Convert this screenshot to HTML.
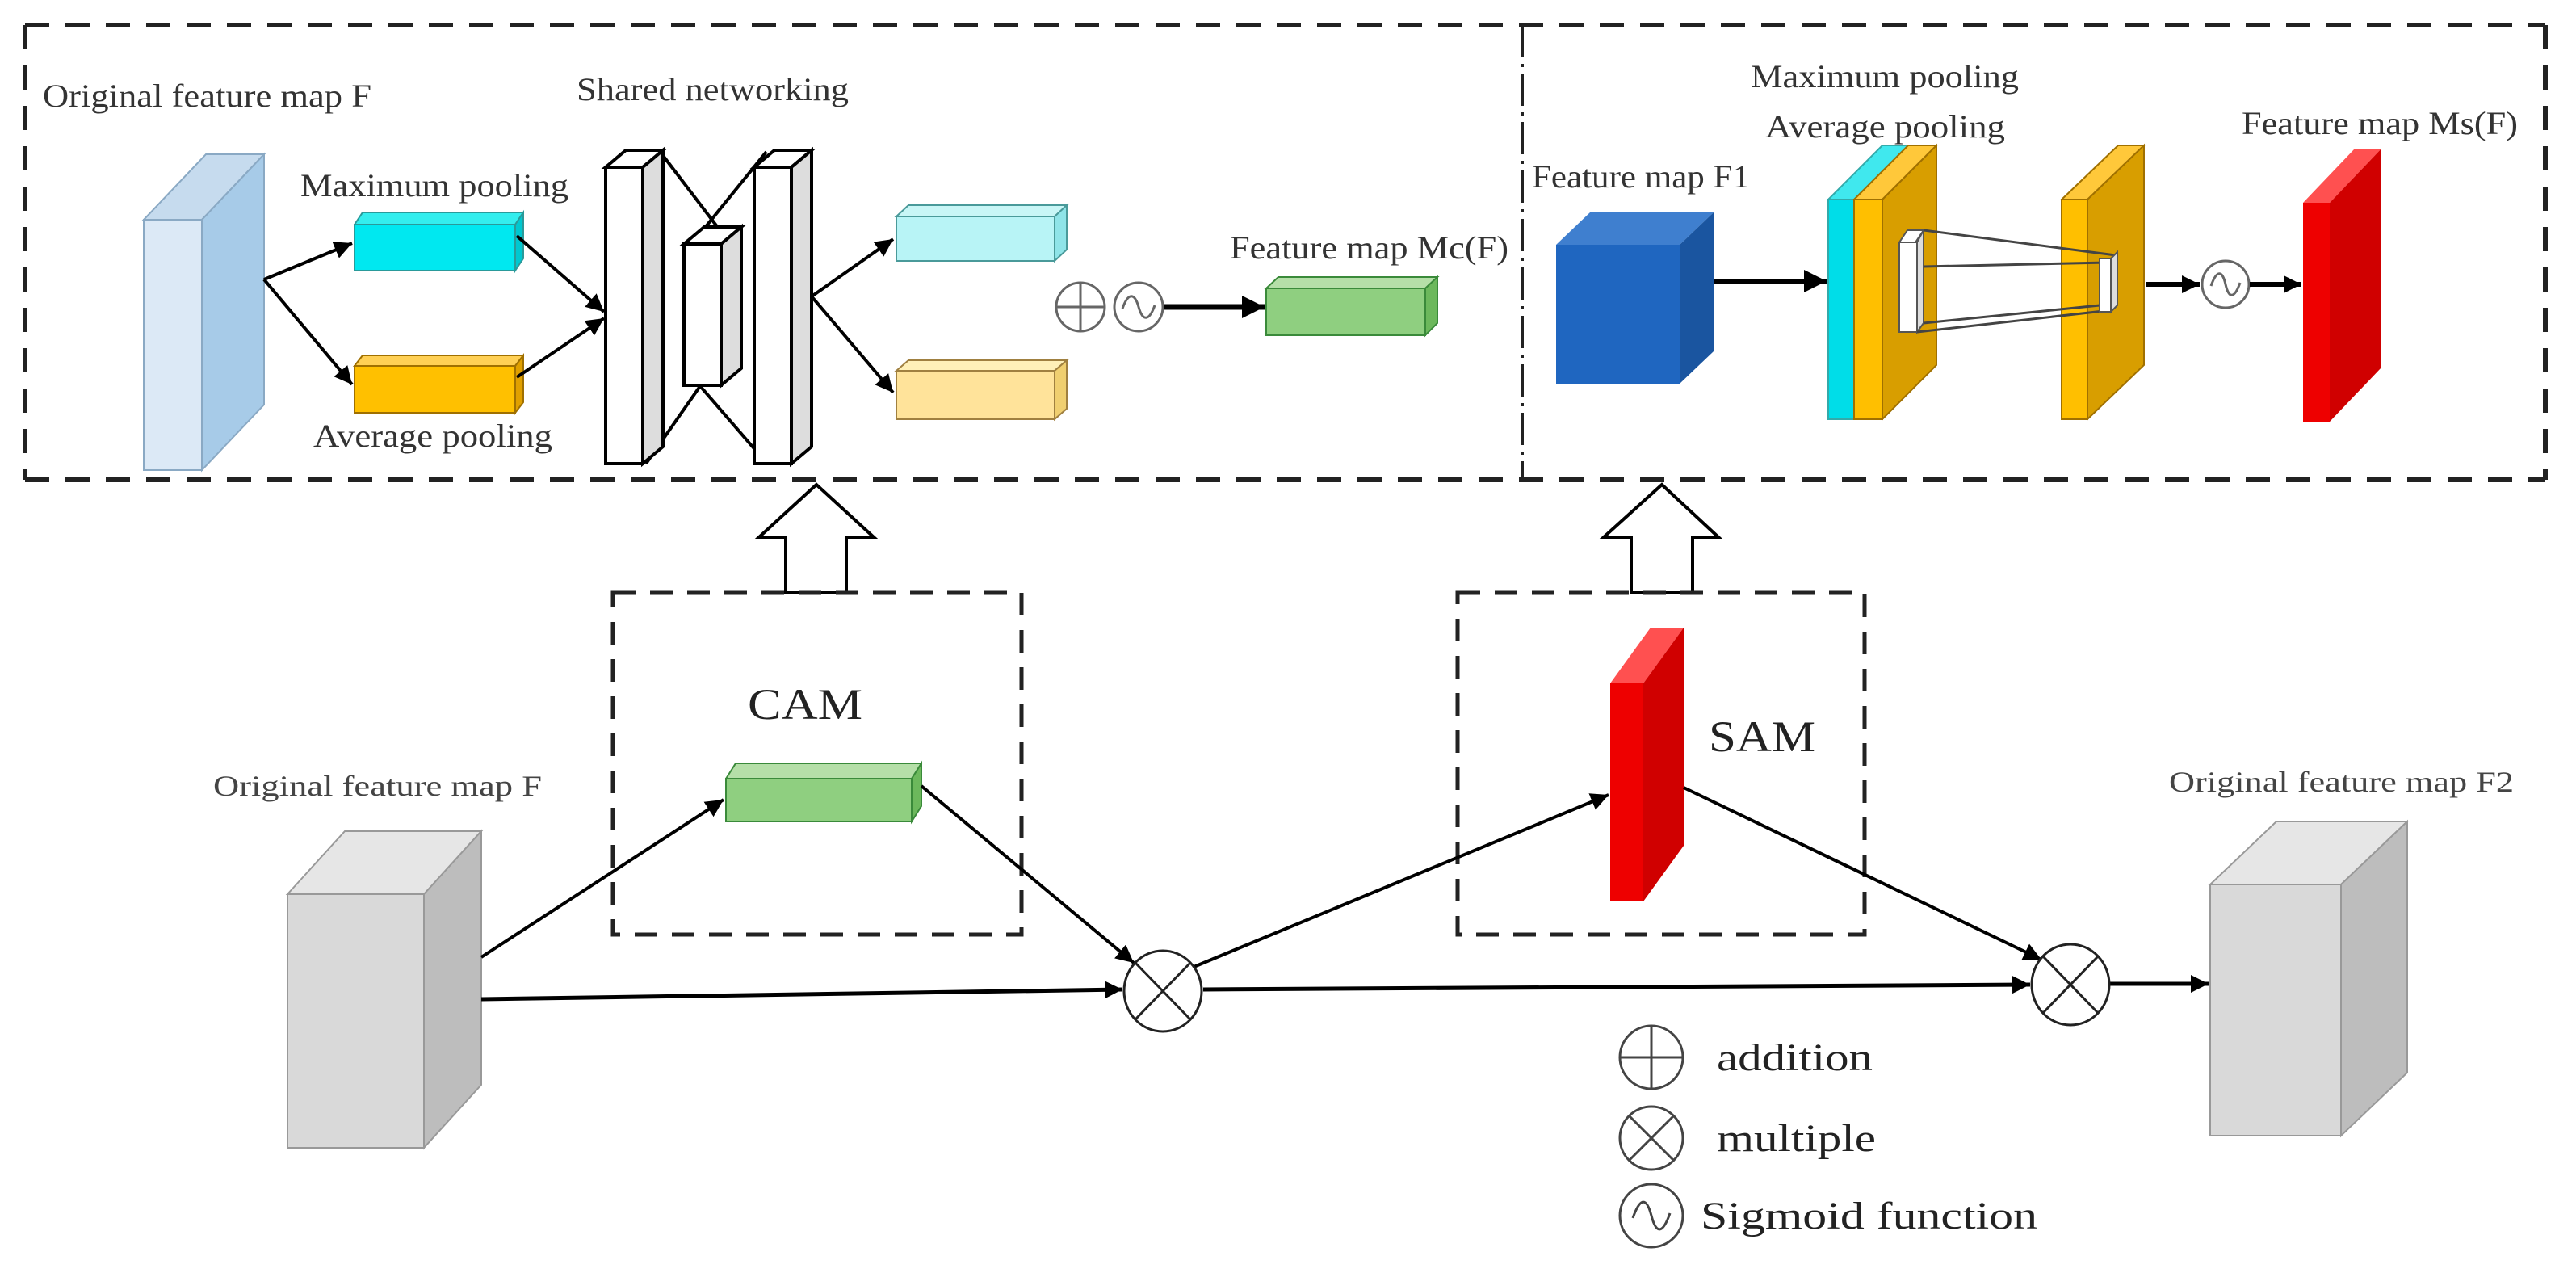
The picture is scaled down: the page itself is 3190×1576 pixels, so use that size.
<!DOCTYPE html>
<html><head><meta charset="utf-8"><style>html,body{margin:0;padding:0;background:#fff}svg{display:block}text{font-family:"Liberation Serif","Times New Roman",serif}</style></head>
<body>
<svg width="3190" height="1576" viewBox="0 0 3190 1576" xmlns="http://www.w3.org/2000/svg" font-family="'Liberation Serif', serif">
<defs>
<marker id="ah" viewBox="0 0 10 10" refX="10" refY="5" markerWidth="22" markerHeight="22" markerUnits="userSpaceOnUse" orient="auto"><path d="M0,0 L10,5 L0,10 z" fill="#000"/></marker>
<marker id="ah2" viewBox="0 0 10 10" refX="10" refY="5" markerWidth="28" markerHeight="28" markerUnits="userSpaceOnUse" orient="auto"><path d="M0,0 L10,5 L0,10 z" fill="#000"/></marker>
</defs>

<g fill="none" stroke="#222" stroke-width="6" stroke-dasharray="30 20">
<line x1="31" y1="31" x2="3152" y2="31"/>
<line x1="31" y1="594" x2="3152" y2="594"/>
<line x1="31" y1="31" x2="31" y2="594"/>
<line x1="3152" y1="31" x2="3152" y2="594"/>
</g>
<line x1="1885" y1="31" x2="1885" y2="594" stroke="#222" stroke-width="4" stroke-dasharray="40 8 4 8"/>

<text x="53" y="132" font-size="40" fill="#333" textLength="407" lengthAdjust="spacingAndGlyphs">Original feature map F</text>
<text x="714" y="124" font-size="40" fill="#333" textLength="337" lengthAdjust="spacingAndGlyphs">Shared networking</text>
<text x="372" y="243" font-size="40" fill="#333" textLength="332" lengthAdjust="spacingAndGlyphs">Maximum pooling</text>
<text x="388" y="553" font-size="40" fill="#333" textLength="296" lengthAdjust="spacingAndGlyphs">Average pooling</text>
<text x="1523" y="320" font-size="40" fill="#333" textLength="345" lengthAdjust="spacingAndGlyphs">Feature map Mc(F)</text>

<g stroke="#8aa9c4" stroke-width="2">
<polygon points="178,272 255,191 327,191 250,272" fill="#c6dbee"/>
<polygon points="250,272 327,191 327,501 250,582" fill="#a7cbe8"/>
<rect x="178" y="272" width="72" height="310" fill="#dce9f6"/>
</g>
<g stroke="#2a9a9a" stroke-width="2">
<polygon points="439,278 449,263 648,263 638,278" fill="#33eeee"/>
<polygon points="638,278 648,263 648,320 638,335" fill="#00c8d0"/>
<rect x="439" y="278" width="199" height="57" fill="#00e8f0"/>
</g>
<g stroke="#a07000" stroke-width="2">
<polygon points="439,453 449,440 648,440 638,453" fill="#ffd055"/>
<polygon points="638,453 648,440 648,498 638,511" fill="#e0a000"/>
<rect x="439" y="453" width="199" height="58" fill="#ffc000"/>
</g>
<g stroke="#000" stroke-width="4" fill="none">
<line x1="327" y1="346" x2="436" y2="301" marker-end="url(#ah)"/>
<line x1="327" y1="346" x2="436" y2="476" marker-end="url(#ah)"/>
<line x1="640" y1="292" x2="748" y2="386" marker-end="url(#ah)"/>
<line x1="640" y1="467" x2="748" y2="394" marker-end="url(#ah)"/>
</g>
<g stroke="#000" stroke-width="4" fill="#fff">
<line x1="816" y1="186" x2="890" y2="283"/>
<line x1="949" y1="188" x2="872" y2="283"/>
<line x1="867" y1="478" x2="800" y2="574"/>
<line x1="867" y1="478" x2="950" y2="574"/>
<polygon points="750,207 775,186 821,186 796,207" fill="#fff"/>
<polygon points="796,207 821,186 821,553 796,574" fill="#ddd"/>
<rect x="750" y="207" width="46" height="367"/>
<polygon points="847,302 872,281 918,281 893,302" fill="#fff"/>
<polygon points="893,302 918,281 918,456 893,477" fill="#ddd"/>
<rect x="847" y="302" width="46" height="175"/>
<polygon points="934,207 959,186 1005,186 980,207" fill="#fff"/>
<polygon points="980,207 1005,186 1005,553 980,574" fill="#ddd"/>
<rect x="934" y="207" width="46" height="367"/>
</g>
<g stroke="#000" stroke-width="4" fill="none">
<line x1="1005" y1="367" x2="1106" y2="296" marker-end="url(#ah)"/>
<line x1="1005" y1="367" x2="1106" y2="486" marker-end="url(#ah)"/>
</g>
<g stroke="#4a9a9a" stroke-width="2">
<polygon points="1110,268 1125,254 1321,254 1306,268" fill="#c8f6f6"/>
<polygon points="1306,268 1321,254 1321,309 1306,323" fill="#8fe4e8"/>
<rect x="1110" y="268" width="196" height="55" fill="#b8f4f6"/>
</g>
<g stroke="#a08040" stroke-width="2">
<polygon points="1110,459 1125,446 1321,446 1306,459" fill="#fff0b8"/>
<polygon points="1306,459 1321,446 1321,506 1306,519" fill="#f0cf70"/>
<rect x="1110" y="459" width="196" height="60" fill="#ffe39a"/>
</g>
<g stroke="#666" stroke-width="3" fill="#fff">
<circle cx="1338" cy="380" r="30"/>
<line x1="1308" y1="380" x2="1368" y2="380"/>
<line x1="1338" y1="350" x2="1338" y2="410"/>
<circle cx="1410" cy="380" r="30"/>
<path d="M1390,382 C1397,362 1405,362 1410,380 C1415,398 1423,398 1430,378" fill="none"/>
</g>
<line x1="1442" y1="380" x2="1566" y2="380" stroke="#000" stroke-width="7" marker-end="url(#ah2)"/>
<g stroke="#3a8a3a" stroke-width="2">
<polygon points="1568,357 1583,343 1780,343 1765,357" fill="#b5dfa8"/>
<polygon points="1765,357 1780,343 1780,400 1765,415" fill="#6cb85c"/>
<rect x="1568" y="357" width="197" height="58" fill="#8fcf80"/>
</g>

<text x="1897" y="232" font-size="40" fill="#333" textLength="270" lengthAdjust="spacingAndGlyphs">Feature map F1</text>
<text x="2168" y="108" font-size="40" fill="#333" textLength="332" lengthAdjust="spacingAndGlyphs">Maximum pooling</text>
<text x="2186" y="170" font-size="40" fill="#333" textLength="297" lengthAdjust="spacingAndGlyphs">Average pooling</text>
<text x="2776" y="166" font-size="40" fill="#333" textLength="342" lengthAdjust="spacingAndGlyphs">Feature map Ms(F)</text>
<polygon points="1927,303 1969,263 2122,263 2080,303" fill="#3f7fcf"/>
<polygon points="2080,303 2122,263 2122,435 2080,475" fill="#1a55a0"/>
<rect x="1927" y="303" width="153" height="172" fill="#1f66c0"/>
<line x1="2122" y1="348" x2="2262" y2="348" stroke="#000" stroke-width="6" marker-end="url(#ah2)"/>
<polygon points="2264,247 2331,180 2363,180 2296,247" fill="#40e8ee" stroke="#3aa" stroke-width="2"/>
<rect x="2264" y="247" width="32" height="272" fill="#00dde8" stroke="#3aa" stroke-width="2"/>
<g stroke="#a07000" stroke-width="2">
<polygon points="2296,247 2363,180 2398,180 2331,247" fill="#ffc83a"/>
<polygon points="2331,247 2398,180 2398,452 2331,519" fill="#d89e00"/>
<rect x="2296" y="247" width="35" height="272" fill="#ffbf00"/>
</g>
<g stroke="#a07000" stroke-width="2">
<polygon points="2553,247 2623,180 2655,180 2585,247" fill="#ffc83a"/>
<polygon points="2585,247 2655,180 2655,452 2585,519" fill="#d89e00"/>
<rect x="2553" y="247" width="32" height="272" fill="#ffbf00"/>
</g>
<polygon points="2352,300 2362,285 2382,285 2372,300" fill="#fff" stroke="#555" stroke-width="2"/>
<rect x="2352" y="300" width="22" height="111" fill="#fff" stroke="#555" stroke-width="2"/>
<polygon points="2374,300 2382,285 2382,400 2374,411" fill="#ddd" stroke="#555" stroke-width="2"/>
<g stroke="#444" stroke-width="3">
<line x1="2382" y1="285" x2="2620" y2="316"/>
<line x1="2382" y1="330" x2="2610" y2="325"/>
<line x1="2382" y1="400" x2="2620" y2="376"/>
<line x1="2374" y1="411" x2="2605" y2="385"/>
</g>
<rect x="2600" y="320" width="14" height="66" fill="#fff" stroke="#555" stroke-width="2"/>
<polygon points="2614,320 2622,312 2622,378 2614,386" fill="#ddd" stroke="#555" stroke-width="2"/>
<line x1="2658" y1="352" x2="2724" y2="352" stroke="#000" stroke-width="6" marker-end="url(#ah)"/>
<circle cx="2756" cy="352" r="29" fill="#fff" stroke="#666" stroke-width="3"/>
<path d="M2738,354 C2745,334 2752,334 2756,352 C2760,370 2767,370 2774,350" fill="none" stroke="#666" stroke-width="3"/>
<line x1="2786" y1="352" x2="2850" y2="352" stroke="#000" stroke-width="6" marker-end="url(#ah)"/>
<polygon points="2852,251 2916,184 2949,184 2885,251" fill="#ff5050"/>
<polygon points="2885,251 2949,184 2949,455 2885,522" fill="#d00000"/>
<rect x="2852" y="251" width="33" height="271" fill="#ee0000"/>

<polygon points="1011,600 1082,665 1048,665 1048,734 973,734 973,665 940,665" fill="#fff" stroke="#000" stroke-width="4"/>
<polygon points="2058,600 2128,665 2096,665 2096,734 2020,734 2020,665 1986,665" fill="#fff" stroke="#000" stroke-width="4"/>

<g fill="none" stroke="#222" stroke-width="5" stroke-dasharray="28 18">
<rect x="759" y="734" width="506" height="423"/>
<rect x="1805" y="734" width="504" height="423"/>
</g>
<text x="926" y="890" font-size="54" fill="#222" textLength="142" lengthAdjust="spacingAndGlyphs">CAM</text>
<text x="2116" y="930" font-size="54" fill="#222" textLength="132" lengthAdjust="spacingAndGlyphs">SAM</text>
<g stroke="#3a8a3a" stroke-width="2">
<polygon points="899,964 911,945 1141,945 1129,964" fill="#b5dfa8"/>
<polygon points="1129,964 1141,945 1141,998 1129,1017" fill="#6cb85c"/>
<rect x="899" y="964" width="230" height="53" fill="#8fcf80"/>
</g>
<polygon points="1994,846 2044,777 2085,777 2035,846" fill="#ff5050"/>
<polygon points="2035,846 2085,777 2085,1047 2035,1116" fill="#d00000"/>
<rect x="1994" y="846" width="41" height="270" fill="#ee0000"/>

<text x="264" y="985" font-size="36" fill="#444" textLength="407" lengthAdjust="spacingAndGlyphs">Original feature map F</text>
<text x="2686" y="980" font-size="36" fill="#444" textLength="427" lengthAdjust="spacingAndGlyphs">Original feature map F2</text>
<g stroke="#999" stroke-width="2">
<polygon points="356,1107 427,1029 596,1029 525,1107" fill="#e6e6e6"/>
<polygon points="525,1107 596,1029 596,1343 525,1421" fill="#bdbdbd"/>
<rect x="356" y="1107" width="169" height="314" fill="#d9d9d9"/>
<polygon points="2737,1095 2819,1017 2981,1017 2899,1095" fill="#e6e6e6"/>
<polygon points="2899,1095 2981,1017 2981,1328 2899,1406" fill="#bdbdbd"/>
<rect x="2737" y="1095" width="162" height="311" fill="#d9d9d9"/>
</g>
<g stroke="#000" stroke-width="4" fill="none">
<line x1="596" y1="1185" x2="896" y2="990" marker-end="url(#ah)"/>
<line x1="1141" y1="973" x2="1404" y2="1192" marker-end="url(#ah)"/>
<line x1="596" y1="1237" x2="1390" y2="1225" stroke-width="5" marker-end="url(#ah)"/>
<line x1="1476" y1="1198" x2="1992" y2="984" marker-end="url(#ah)"/>
<line x1="2085" y1="975" x2="2528" y2="1188" marker-end="url(#ah)"/>
<line x1="1490" y1="1225" x2="2514" y2="1219" stroke-width="5" marker-end="url(#ah)"/>
<line x1="2613" y1="1218" x2="2735" y2="1218" stroke-width="5" marker-end="url(#ah)"/>
</g>
<g stroke="#222" stroke-width="3" fill="#fff">
<ellipse cx="1440" cy="1227" rx="48" ry="50"/>
<line x1="1406" y1="1192" x2="1474" y2="1262"/>
<line x1="1474" y1="1192" x2="1406" y2="1262"/>
<ellipse cx="2564" cy="1219" rx="48" ry="50"/>
<line x1="2530" y1="1184" x2="2598" y2="1254"/>
<line x1="2598" y1="1184" x2="2530" y2="1254"/>
</g>
<g stroke="#444" stroke-width="3" fill="#fff">
<circle cx="2045" cy="1309" r="39"/>
<line x1="2006" y1="1309" x2="2084" y2="1309"/>
<line x1="2045" y1="1270" x2="2045" y2="1348"/>
<circle cx="2045" cy="1409" r="39"/>
<line x1="2017" y1="1381" x2="2073" y2="1437"/>
<line x1="2073" y1="1381" x2="2017" y2="1437"/>
<circle cx="2045" cy="1505" r="39"/>
<path d="M2022,1508 C2031,1482 2039,1482 2045,1505 C2051,1528 2059,1528 2068,1502" fill="none"/>
</g>
<text x="2126" y="1325" font-size="48" fill="#222" textLength="193" lengthAdjust="spacingAndGlyphs">addition</text>
<text x="2126" y="1425" font-size="48" fill="#222" textLength="197" lengthAdjust="spacingAndGlyphs">multiple</text>
<text x="2106" y="1521" font-size="48" fill="#222" textLength="417" lengthAdjust="spacingAndGlyphs">Sigmoid function</text>
</svg>
</body></html>
